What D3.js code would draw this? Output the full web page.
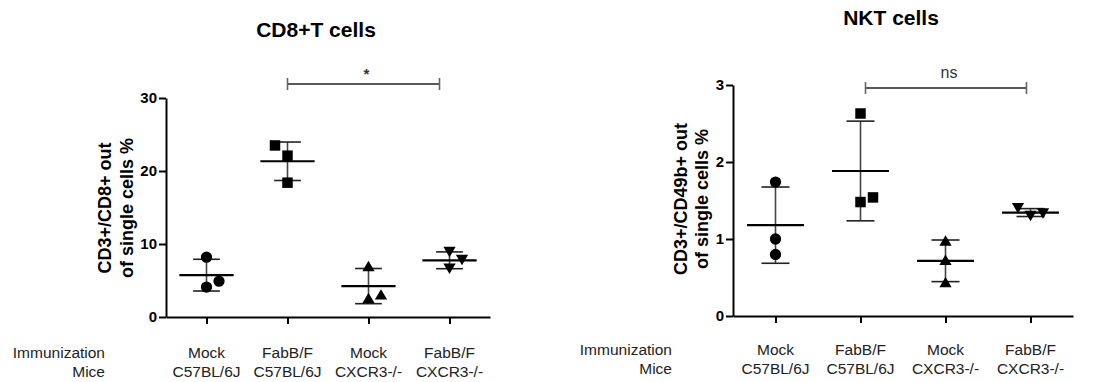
<!DOCTYPE html>
<html>
<head>
<meta charset="utf-8">
<script src="https://cdn.jsdelivr.net/npm/d3@7"></script>
<style>
  body { margin: 0; background: #fff; }
  svg { display: block; font-family: "Liberation Sans", Arial, sans-serif; }
  .axis path, .axis line { stroke: #000; stroke-width: 2; }
  .axis text { font-size: 15px; font-weight: bold; fill: #000; }
</style>
</head>
<body>
<div id="container"></div>
<script>
// categories
var immunization = ["Mock", "FabB/F", "Mock", "FabB/F"];
var mice = ["C57BL/6J", "C57BL/6J", "CXCR3-/-", "CXCR3-/-"];
var symbolNames = ["circle", "square", "triangle", "triangle-down"];

// CD8+T cells, % of single cells, 3 mice per group
var cd8Values = [[8.2, 4.1, 4.9], [23.5, 22.1, 18.4], [7.0, 2.6, 3.1], [8.9, 6.6, 7.8]];
var cd8Jitter = [[0, 0, 1], [-1, 0, 0], [0, 0, 1], [0, 0, 1]];
var cd8Ticks = [0, 10, 20, 30];

// NKT cells
var nktValues = [[1.74, 1.0, 0.8], [2.63, 1.48, 1.54], [0.98, 0.73, 0.44], [1.4, 1.3, 1.33]];
var nktJitter = [[0, 0, 0], [0, 0, 1], [0, 0, 0], [-1, 0, 1]];
var nktTicks = [0, 1, 2, 3];

var significance = ["*", "ns"];

var W = 1093, H = 382;
var svg = d3.select("#container").append("svg").attr("width", W).attr("height", H);

// custom triangles (centred on their box)
var triUp = { draw: function (ctx, size) {
  var w = Math.sqrt(size) * 1.2, h = w * 0.85;
  ctx.moveTo(0, -h / 2); ctx.lineTo(w / 2, h / 2); ctx.lineTo(-w / 2, h / 2); ctx.closePath();
} };
var triDown = { draw: function (ctx, size) {
  var w = Math.sqrt(size) * 1.2, h = w * 0.85;
  ctx.moveTo(-w / 2, -h / 2); ctx.lineTo(w / 2, -h / 2); ctx.lineTo(0, h / 2); ctx.closePath();
} };
var symbolTypes = {
  "circle": [d3.symbolCircle, 100],
  "square": [d3.symbolSquare, 110],
  "triangle": [triUp, 105],
  "triangle-down": [triDown, 105]
};

var panels = [
  { title: "CD8+T cells", titleY: 37, values: cd8Values, jitter: cd8Jitter, ticks: cd8Ticks,
    xr: [166, 490], yr: [317, 98], ylab: ["CD3+/CD8+ out", "of single cells %"],
    ylabX: [111, 133], ylabY: 208, labRight: 105, labY: [358, 377],
    sig: significance[0], sigY: 84, sigInset: [0, -10], sigBold: true },
  { title: "NKT cells", titleY: 25, values: nktValues, jitter: nktJitter, ticks: nktTicks,
    xr: [733, 1073], yr: [316, 85], ylab: ["CD3+/CD49b+ out", "of single cells %"],
    ylabX: [687, 708], ylabY: 199, labRight: 672, labY: [355, 374],
    sig: significance[1], sigY: 88, sigInset: [5, -4], sigBold: false }
];

panels.forEach(function (p) {
  var g = svg.append("g");
  var x = d3.scalePoint().domain(d3.range(immunization.length)).range(p.xr).padding(0.5);
  var step = x.step();
  var y = d3.scaleLinear().domain([0, d3.max(p.ticks)]).range(p.yr);
  var jit = 12.5;

  // title
  g.append("text")
    .attr("x", (p.xr[0] + p.xr[1]) / 2 - 12)
    .attr("y", p.titleY)
    .attr("text-anchor", "middle")
    .style("font-size", "21px").style("font-weight", "bold")
    .text(p.title);

  // axes
  g.append("g").attr("class", "axis")
    .attr("transform", "translate(" + p.xr[0] + ",0)")
    .call(d3.axisLeft(y).tickValues(p.ticks).tickFormat(d3.format("d"))
      .tickSize(7).tickPadding(2).tickSizeOuter(0));
  g.append("g").attr("class", "axis")
    .attr("transform", "translate(0," + p.yr[0] + ")")
    .call(d3.axisBottom(x).tickSize(7).tickSizeOuter(0).tickFormat(""));

  // y label
  p.ylab.forEach(function (t, i) {
    g.append("text")
      .attr("transform", "translate(" + p.ylabX[i] + "," + p.ylabY + ") rotate(-90)")
      .attr("text-anchor", "middle")
      .style("font-size", "18px").style("font-weight", "bold")
      .text(t);
  });

  // category labels
  var rowNames = ["Immunization", "Mice"];
  var rows = [immunization, mice];
  rows.forEach(function (row, r) {
    g.append("text")
      .attr("x", p.labRight).attr("y", p.labY[r])
      .attr("text-anchor", "end")
      .style("font-size", "15.5px").style("fill", "#222")
      .text(rowNames[r]);
    g.selectAll(null).data(row).enter().append("text")
      .attr("x", function (d, i) { return x(i); })
      .attr("y", p.labY[r])
      .attr("text-anchor", "middle")
      .style("font-size", "15.5px").style("fill", "#222")
      .text(function (d) { return d; });
  });

  // mean and SD
  var stats = p.values.map(function (v, i) {
    return { i: i, mean: d3.mean(v), sd: d3.deviation(v) };
  });
  var eb = g.append("g").attr("class", "errorbars");
  eb.selectAll("line.v").data(stats).enter().append("line")
    .attr("x1", function (d) { return x(d.i); }).attr("x2", function (d) { return x(d.i); })
    .attr("y1", function (d) { return y(d.mean + d.sd); })
    .attr("y2", function (d) { return y(d.mean - d.sd); })
    .style("stroke", "#444").style("stroke-width", 1.6);
  [1, -1].forEach(function (s) {
    eb.selectAll(null).data(stats).enter().append("line")
      .attr("x1", function (d) { return x(d.i) - step * 0.165; })
      .attr("x2", function (d) { return x(d.i) + step * 0.165; })
      .attr("y1", function (d) { return y(d.mean + s * d.sd); })
      .attr("y2", function (d) { return y(d.mean + s * d.sd); })
      .style("stroke", "#222").style("stroke-width", 1.6);
  });
  eb.selectAll("line.mean").data(stats).enter().append("line")
    .attr("x1", function (d) { return x(d.i) - step * 0.335; })
    .attr("x2", function (d) { return x(d.i) + step * 0.335; })
    .attr("y1", function (d) { return y(d.mean); })
    .attr("y2", function (d) { return y(d.mean); })
    .style("stroke", "#000").style("stroke-width", 2.2);

  // points
  var pts = [];
  p.values.forEach(function (v, i) {
    v.forEach(function (val, k) { pts.push({ i: i, v: val, j: p.jitter[i][k] }); });
  });
  g.selectAll("path.pt").data(pts).enter().append("path")
    .attr("class", "pt")
    .attr("transform", function (d) {
      return "translate(" + (x(d.i) + d.j * jit) + "," + y(d.v) + ")";
    })
    .attr("d", function (d) {
      var t = symbolTypes[symbolNames[d.i]];
      return d3.symbol().type(t[0]).size(t[1])();
    })
    .style("fill", "#000");

  // significance bracket between group 2 and group 4
  var bx0 = x(1) + p.sigInset[0], bx1 = x(3) + p.sigInset[1];
  var br = g.append("g");
  br.append("line").attr("x1", bx0).attr("x2", bx1).attr("y1", p.sigY).attr("y2", p.sigY)
    .style("stroke", "#222").style("stroke-width", 1.4);
  [bx0, bx1].forEach(function (bx) {
    br.append("line").attr("x1", bx).attr("x2", bx).attr("y1", p.sigY - 6).attr("y2", p.sigY + 6)
      .style("stroke", "#666").style("stroke-width", 1.6);
  });
  br.append("text")
    .attr("x", (bx0 + bx1) / 2 + 3).attr("y", p.sigBold ? p.sigY - 5 : p.sigY - 10)
    .attr("text-anchor", "middle")
    .style("font-size", p.sigBold ? "15px" : "16px")
    .style("font-weight", p.sigBold ? "bold" : "normal")
    .style("fill", "#333")
    .text(p.sig);
});
</script>
</body>
</html>
